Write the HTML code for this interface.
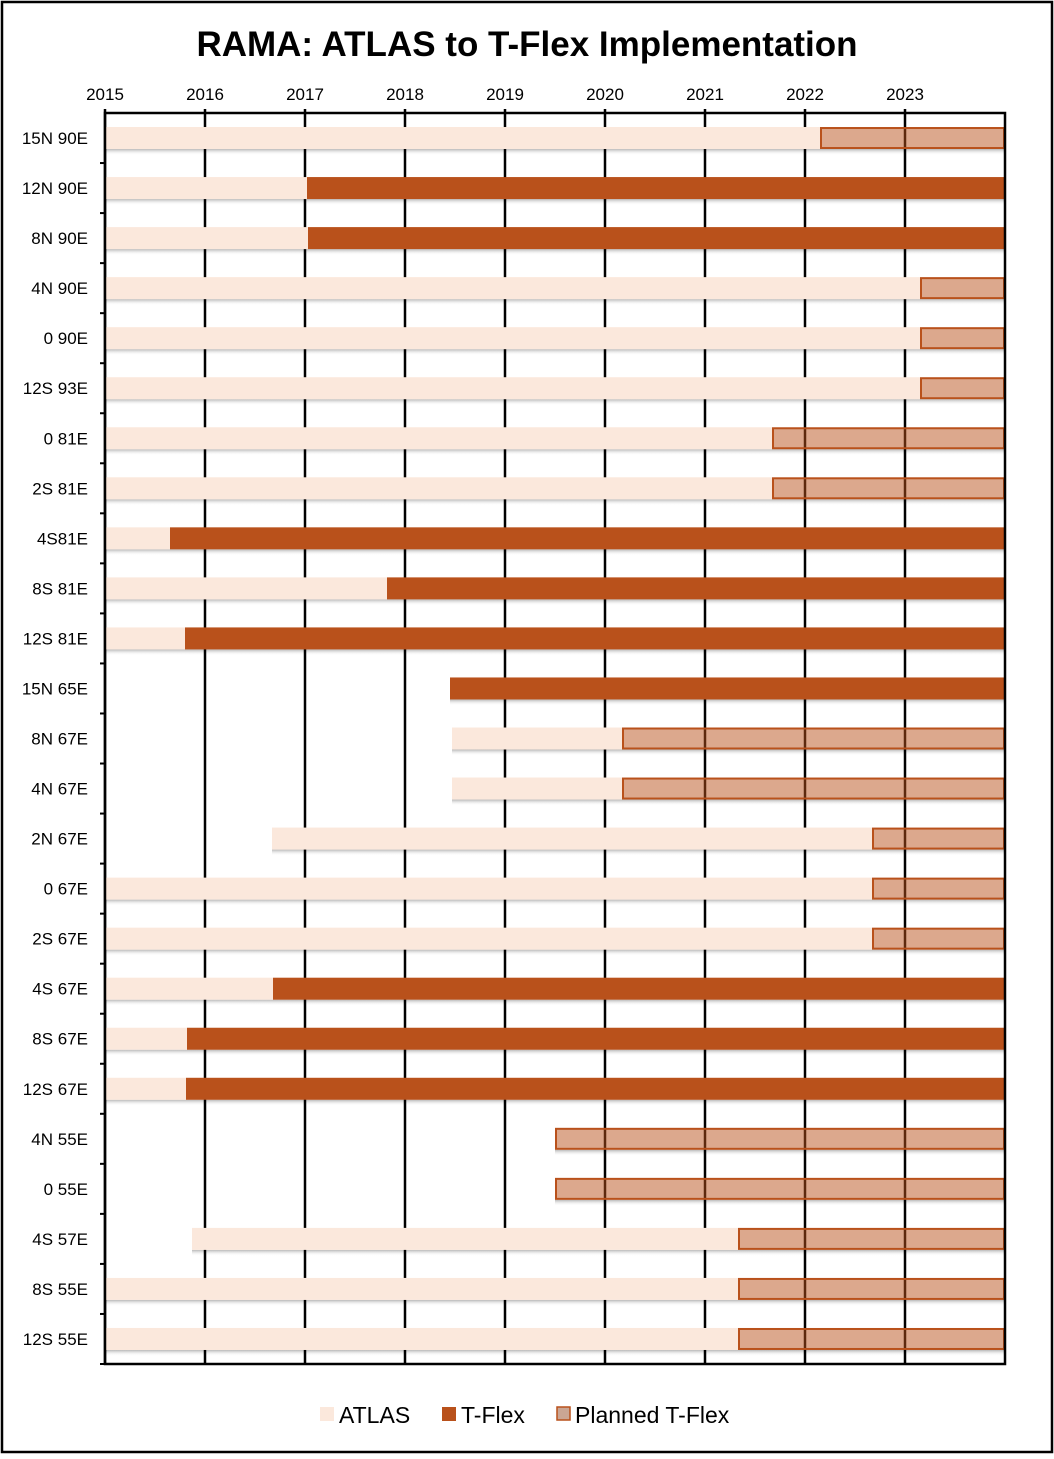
<!DOCTYPE html>
<html><head><meta charset="utf-8"><style>
body{margin:0;background:#fff;font-family:"Liberation Sans",sans-serif}
</style></head><body>
<svg width="1054" height="1454" xmlns="http://www.w3.org/2000/svg">
<defs><linearGradient id="sh" x1="0" y1="0" x2="0" y2="1"><stop offset="0" stop-color="#999" stop-opacity="0.7"/><stop offset="1" stop-color="#fff" stop-opacity="0"/></linearGradient></defs>
<rect x="2" y="2" width="1050" height="1450" fill="#fff" stroke="#000" stroke-width="2.5"/>
<text x="527" y="56" text-anchor="middle" font-size="35" font-weight="bold">RAMA: ATLAS to T-Flex Implementation</text>
<g id="g"></g>
<g font-size="23">
<rect x="320" y="1407" width="14" height="14" fill="#fbe8dc"/>
<text x="339" y="1423">ATLAS</text>
<rect x="442" y="1407" width="14" height="14" fill="#b9511b"/>
<text x="461" y="1423">T-Flex</text>
<rect x="557" y="1407" width="13" height="13" fill="#caa694" stroke="#b9511b" stroke-width="1.5"/>
<text x="575" y="1423">Planned T-Flex</text>
</g>
</svg>
<script>
const sites=["15N 90E","12N 90E","8N 90E","4N 90E","0 90E","12S 93E","0 81E","2S 81E","4S81E","8S 81E","12S 81E","15N 65E","8N 67E","4N 67E","2N 67E","0 67E","2S 67E","4S 67E","8S 67E","12S 67E","4N 55E","0 55E","4S 57E","8S 55E","12S 55E"];
const atlasStart=[2015,2015,2015,2015,2015,2015,2015,2015,2015,2015,2015,null,2018.47,2018.47,2016.67,2015,2015,2015,2015,2015,null,null,2015.87,2015,2015];
const switchYear=[2022.15,2017.02,2017.03,2023.15,2023.15,2023.15,2021.67,2021.67,2015.65,2017.82,2015.8,2018.45,2020.17,2020.17,2022.67,2022.67,2022.67,2016.68,2015.82,2015.81,2019.5,2019.5,2021.33,2021.33,2021.33];
const status=["planned","tflex","tflex","planned","planned","planned","planned","planned","tflex","tflex","tflex","tflex","planned","planned","planned","planned","planned","tflex","tflex","tflex","planned","planned","planned","planned","planned"];
const yearTicks=[2015,2016,2017,2018,2019,2020,2021,2022,2023];
const X0=105,X1=1005,Y0=113,Y1=1364,YMIN=2015,YMAX=2024;
const xs=v=>X0+(v-YMIN)/(YMAX-YMIN)*(X1-X0);
const band=(Y1-Y0)/sites.length;
const yc=i=>Y0+band*(i+0.5);
const NS="http://www.w3.org/2000/svg",g=document.getElementById('g');
function mk(t,a){const e=document.createElementNS(NS,t);for(const k in a)e.setAttribute(k,a[k]);g.appendChild(e);return e;}
// atlas & shadows first
sites.forEach((s,i)=>{
  const y=yc(i)-11;
  if(atlasStart[i]!==null){
    const sh=mk('rect',{x:xs(atlasStart[i]),y:y+22,width:X1-xs(atlasStart[i]),height:6,fill:'url(#sh)'});
    
    
  } else {
    const sh=mk('rect',{x:xs(switchYear[i]),y:y+22,width:X1-xs(switchYear[i]),height:6,fill:'url(#sh)'});
    
    
  }
});
// gridlines
yearTicks.forEach(v=>{
  const l=mk('line',{x1:xs(v),x2:xs(v),y1:Y0-4,y2:Y1,stroke:'#000','stroke-width':2.5});
  
  
  const t=mk('text',{x:xs(v),y:100,'text-anchor':'middle','font-size':17});
  t.textContent=v;
  
  
});
sites.forEach((s,i)=>{
  const y=yc(i)-11;
  if(atlasStart[i]!==null){
    const a=mk('rect',{x:xs(atlasStart[i]),y:y,width:xs(switchYear[i])-xs(atlasStart[i]),height:22,fill:'#fbe8dc'});
    
    
  }
  let b;
  if(status[i]==='tflex'){
    b=mk('rect',{x:xs(switchYear[i]),y:y,width:X1-xs(switchYear[i]),height:22,fill:'#b9511b'});
  } else {
    b=mk('rect',{x:xs(switchYear[i])+1,y:y+1,width:X1-xs(switchYear[i])-2,height:20,fill:'#b9511b','fill-opacity':0.5,stroke:'#b9511b','stroke-width':2});
  }
  
  
  const t=mk('text',{x:88,y:yc(i)+6,'text-anchor':'end','font-size':17});
  t.textContent=s;
  
  
  const tk=mk('line',{x1:X0-5,x2:X0,y1:Y0+band*(i+1),y2:Y0+band*(i+1),stroke:'#000','stroke-width':2});
  
  
});
const ax=mk('rect',{x:X0,y:Y0,width:X1-X0,height:Y1-Y0,fill:'none',stroke:'#000','stroke-width':2.5});


</script>
</body></html>
